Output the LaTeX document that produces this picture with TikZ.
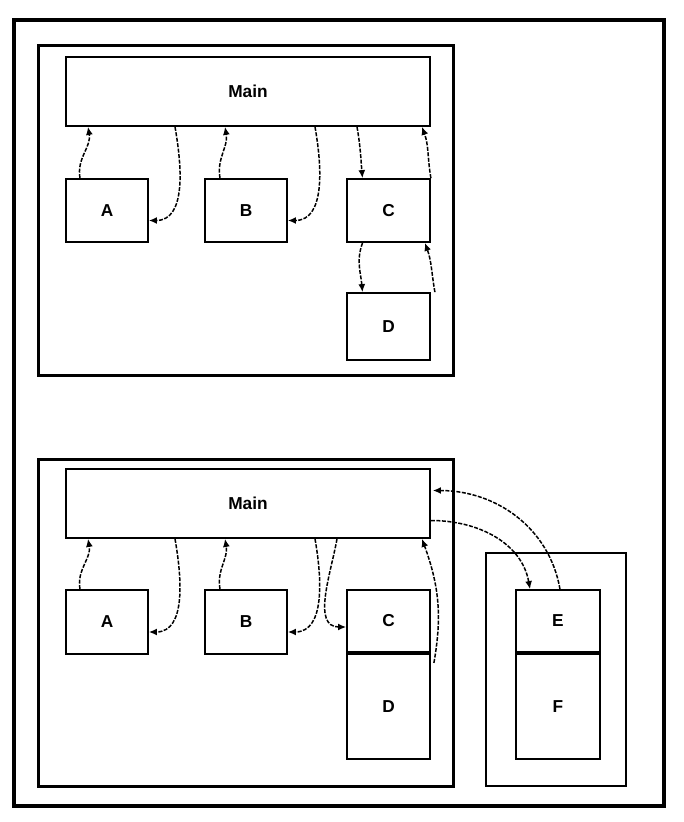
\documentclass[tikz,border=0pt]{standalone}
\usepackage{fontspec}
\setmainfont{Liberation Sans}
\usetikzlibrary{arrows.meta}
\tikzset{
    box/.style={draw, line width=1.8pt, inner sep=0pt, font=\bfseries\LARGE},
    call/.style={-{Latex[length=8pt,width=7pt]}, dash pattern=on 4pt off 1.5pt, line width=1.5pt},
}
\begin{document}
\begin{tikzpicture}[x=1pt,y=-1pt]
    \useasboundingbox (0,0) rectangle (684,822);
    \draw [line width=3.5pt] (14,20) rectangle (664,806);
    % upper picture
    \draw [line width=3pt] (38,45) rectangle (453,375);
    \node [box, minimum width=364pt, minimum height=69pt] (main1) at (248,91.5) {Main};
    \node [box, minimum width=82pt, minimum height=63pt] (a1) at (107,210.5) {A};
    \node [box, minimum width=82pt, minimum height=63pt] (b1) at (246,210.5) {B};
    \node [box, minimum width=83pt, minimum height=63pt] (c1) at (388.5,210.5) {C};
    \node [box, minimum width=83pt, minimum height=67pt] (d1) at (388.5,326.5) {D};
    \draw [call] ([xshift=-27pt]a1.north) to[out=100,in=-80] ([xshift=-160pt]main1.south);
    \draw [call] ([xshift=-73pt]main1.south) to[out=-80,in=0] ([yshift=-10pt]a1.east);
    \draw [call] ([xshift=-26pt]b1.north) to[out=100,in=-80] ([xshift=-23pt]main1.south);
    \draw [call] ([xshift=67pt]main1.south) to[out=-80,in=0] ([yshift=-10pt]b1.east);
    \draw [call] ([xshift=109pt]main1.south) to[out=-80,in=95] ([xshift=-26pt]c1.north);
    \draw [call] (c1.north east) to[out=100,in=-70] ([xshift=174pt]main1.south);
    \draw [call] ([xshift=-26pt]c1.south) to[out=-110,in=95] ([xshift=-26pt]d1.north);
    \draw [call] ([xshift=4pt]d1.north east) to[out=100,in=-70] ([xshift=-6pt]c1.south east);
    % lower picture
    \draw [line width=3pt] (38,459) rectangle (453,786);
    \draw [line width=1.8pt] (486,553) rectangle (626,786);
    \node [box, minimum width=364pt, minimum height=69pt] (main2) at (248,503.5) {Main};
    \node [box, minimum width=82pt, minimum height=64pt] (a2) at (107,622) {A};
    \node [box, minimum width=82pt, minimum height=64pt] (b2) at (246,622) {B};
    \node [box, minimum width=83pt, minimum height=62pt] (c2) at (388.5,621) {C};
    \node [box, minimum width=83pt, minimum height=105pt, anchor=north] (d2) at (c2.south) {D};
    \node [box, minimum width=84pt, minimum height=62pt] (e2) at (558,621) {E};
    \node [box, minimum width=84pt, minimum height=105pt, anchor=north] (f2) at (e2.south) {F};
    \draw [call] ([xshift=-27pt]a2.north) to[out=100,in=-80] ([xshift=-160pt]main2.south);
    \draw [call] ([xshift=-73pt]main2.south) to[out=-80,in=0] ([yshift=-10pt]a2.east);
    \draw [call] ([xshift=-26pt]b2.north) to[out=100,in=-80] ([xshift=-23pt]main2.south);
    \draw [call] ([xshift=67pt]main2.south) to[out=-80,in=0] ([yshift=-10pt]b2.east);
    \draw [call] ([xshift=89pt]main2.south) to[out=-100,in=180] ([yshift=-6pt]c2.west);
    \draw [call] ([xshift=3pt,yshift=-10pt]d2.north east) to[out=80,in=-70] ([xshift=174pt]main2.south);
    \draw [call] ([yshift=-17pt]main2.east) to[out=0,in=100] ([xshift=-28pt]e2.north);
    \draw [call] ([xshift=2pt]e2.north) to[out=100,in=0] ([xshift=2pt,yshift=13pt]main2.east);
\end{tikzpicture}
\end{document}
